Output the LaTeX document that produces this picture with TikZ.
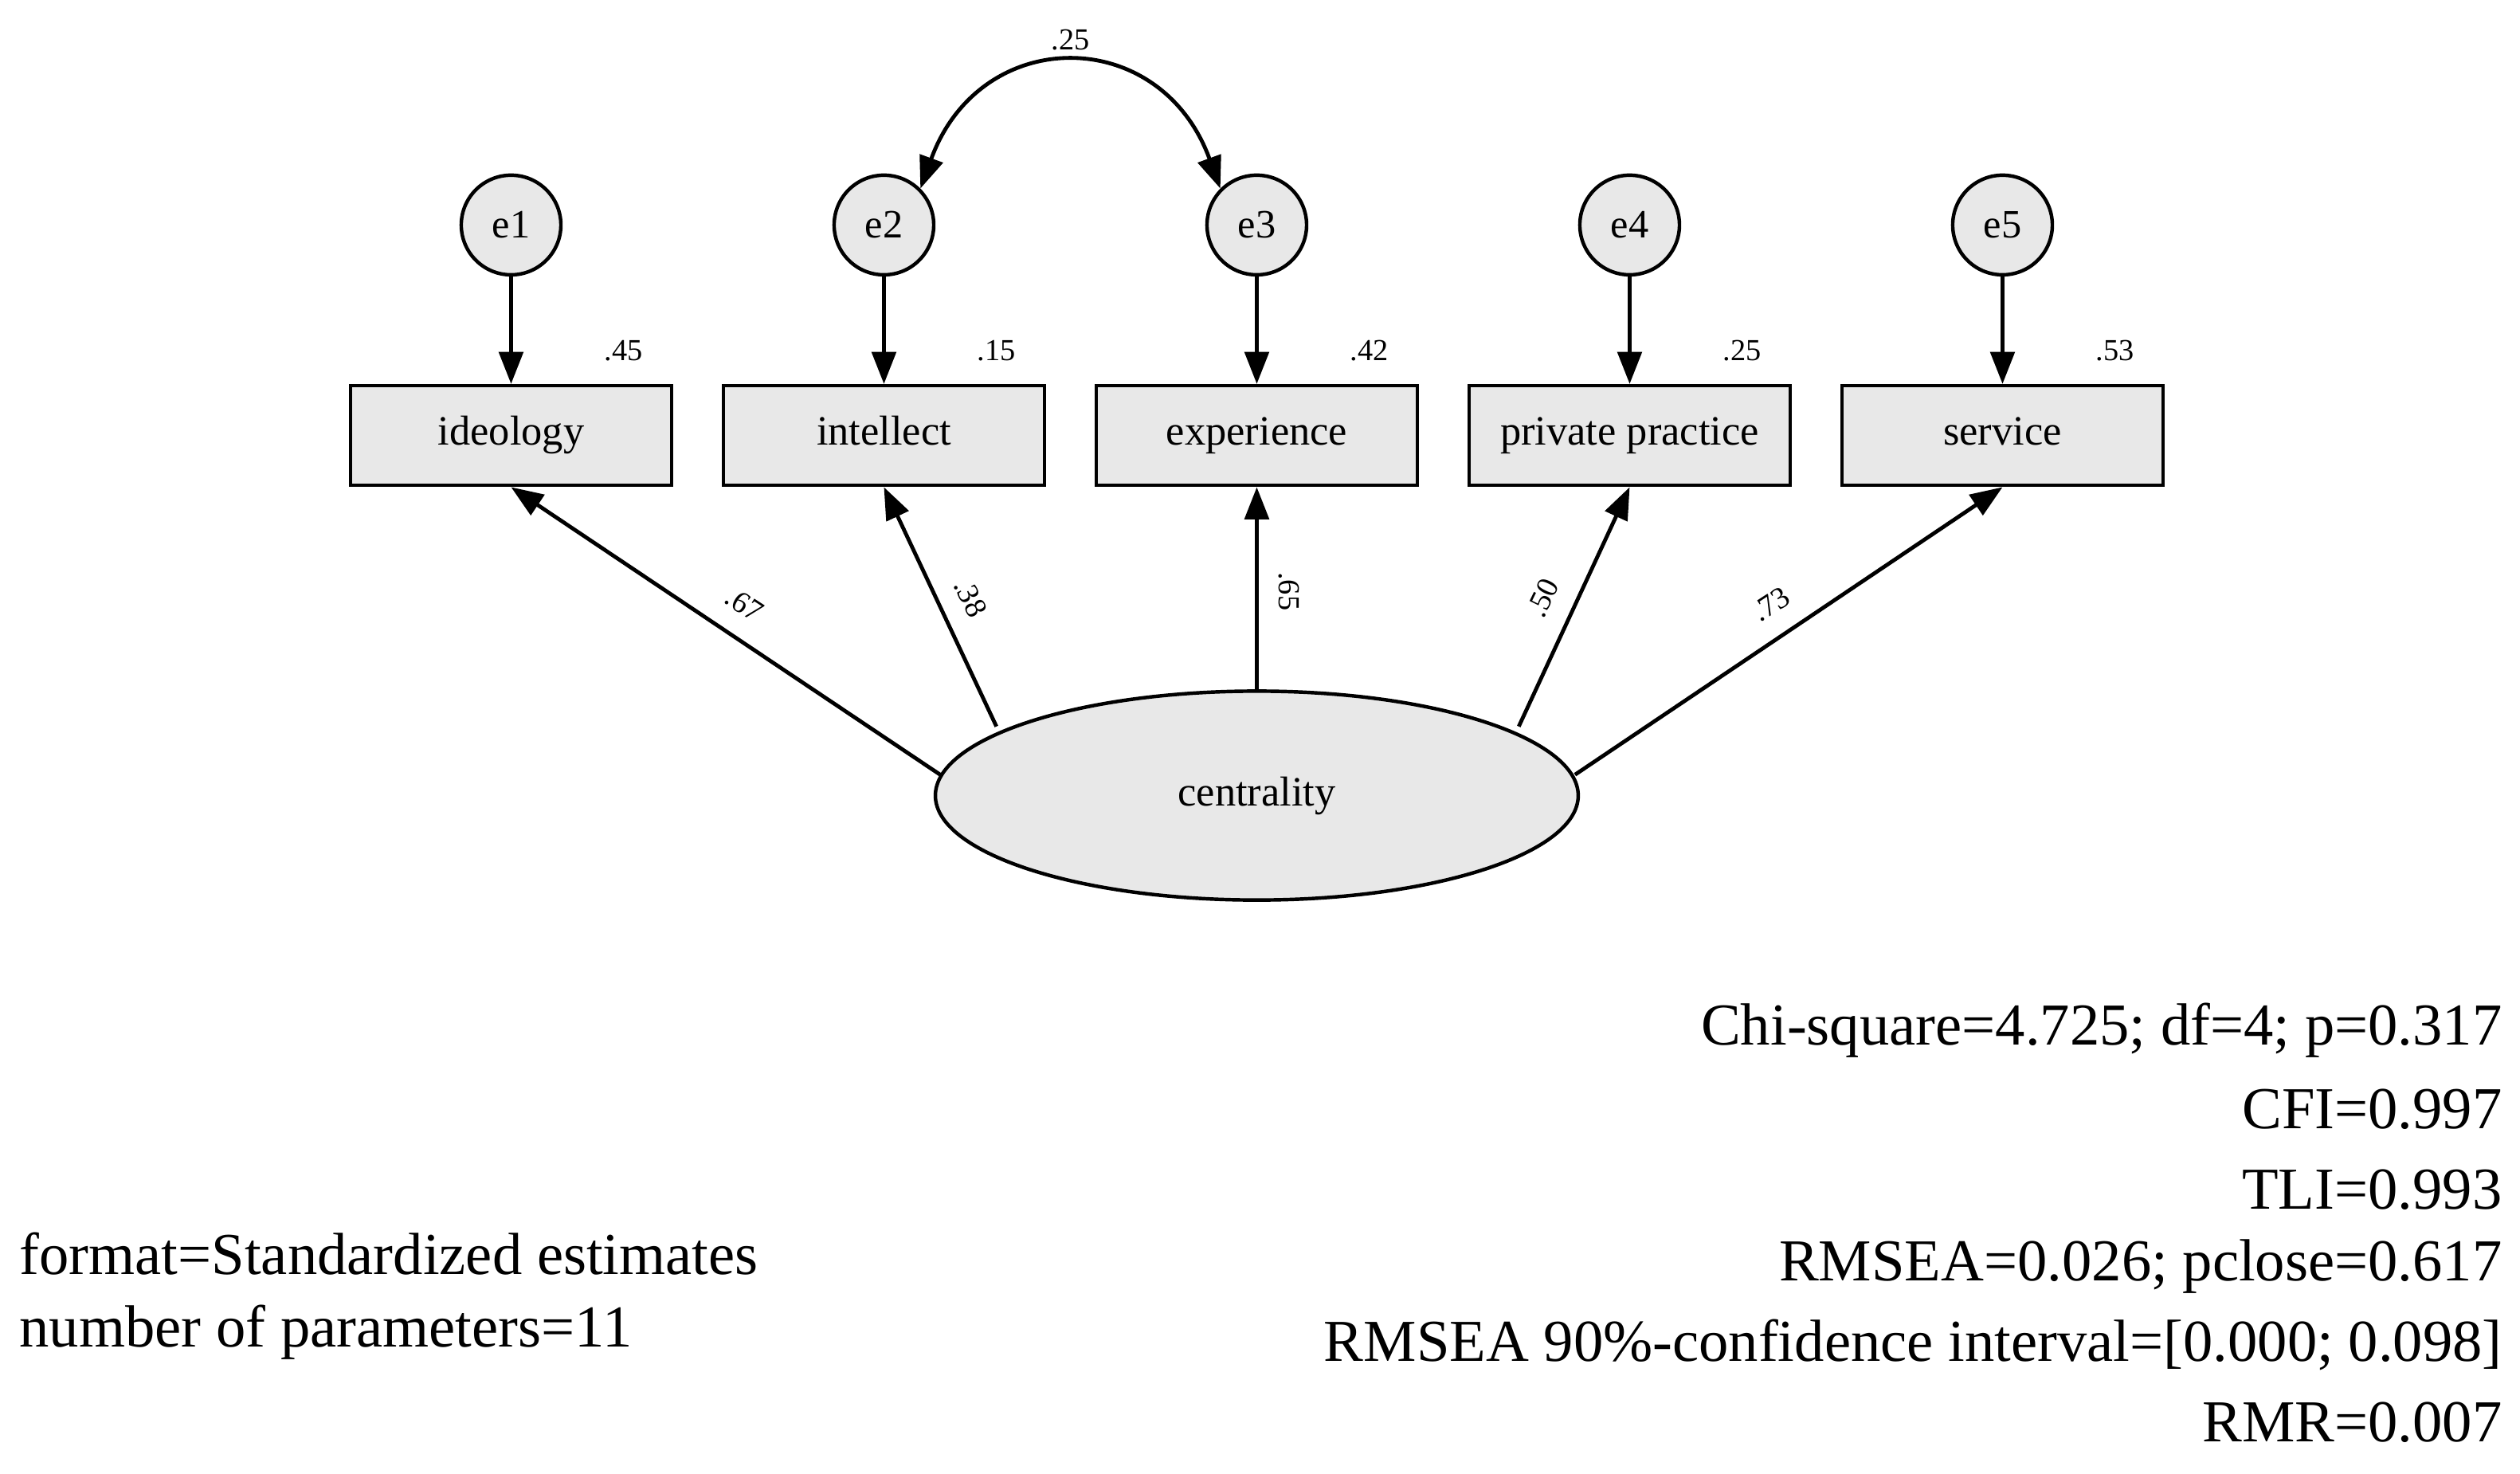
\documentclass[tikz,border=0pt]{standalone}
\usepackage{fontspec}
\setmainfont{Liberation Serif}
\usetikzlibrary{arrows.meta,shapes.geometric}
\begin{document}
\begin{tikzpicture}[x=1pt,y=-1pt,
  err/.style={circle,draw,line width=2.2pt,fill=gray!18,minimum size=62pt,inner sep=0pt,font=\fontsize{25}{28}\selectfont},
  obs/.style={rectangle,draw,line width=2.2pt,fill=gray!18,minimum width=200pt,minimum height=62pt,inner sep=0pt,text height=17pt,text depth=5pt,font=\fontsize{26}{30}\selectfont},
  lat/.style={ellipse,draw,line width=2.2pt,fill=gray!18,minimum width=400pt,minimum height=130pt,font=\fontsize{26}{30}\selectfont},
  arr/.style={line width=2.4pt,-{Triangle[length=20pt,width=15pt]}},
  num/.style={font=\fontsize{19}{22}\selectfont,inner sep=0pt},
  fit/.style={font=\fontsize{37}{42}\selectfont,inner sep=0pt}]
\useasboundingbox (0,0) rectangle (1568,917);
\foreach \i/\x in {1/318,2/550,3/782,4/1014,5/1246}{
  \node[err] (e\i) at (\x,140) {e\i};
}
\node[obs] (b1) at (318,271) {ideology};
\node[obs] (b2) at (550,271) {intellect};
\node[obs] (b3) at (782,271) {experience};
\node[obs] (b4) at (1014,271) {private practice};
\node[obs] (b5) at (1246,271) {service};
\foreach \i in {1,...,5}{\draw[arr] (e\i) -- (b\i);}
\node[num] at (388,218) {.45};
\node[num] at (620,218) {.15};
\node[num] at (852,218) {.42};
\node[num] at (1084,218) {.25};
\node[num] at (1316,218) {.53};
\node[lat] (c) at (782,495) {centrality};
\coordinate (c1) at (585,482);
\coordinate (c2) at (620,452);
\coordinate (c3) at (782,430);
\coordinate (c4) at (945,452);
\coordinate (c5) at (980,482);
\draw[arr] (c1) -- (b1.south);
\draw[arr] (c2) -- (b2.south);
\draw[arr] (c3) -- (b3.south);
\draw[arr] (c4) -- (b4.south);
\draw[arr] (c5) -- (b5.south);
\node[num,rotate=-33] at (463,376) {.67};
\node[num,rotate=-64] at (604,372) {.38};
\node[num,rotate=-90] at (802,368) {.65};
\node[num,rotate=64] at (960,372) {.50};
\node[num,rotate=33] at (1102,376) {.73};
\draw[line width=2.4pt,{Triangle[length=20pt,width=15pt]}-{Triangle[length=20pt,width=15pt]}] (e2.north east) .. controls (610,15) and (722,15) .. (e3.north west);
\node[num] at (666,25) {.25};
\node[fit,anchor=east] at (1557,641) {Chi-square=4.725; df=4; p=0.317};
\node[fit,anchor=east] at (1557,690) {CFI=0.997};
\node[fit,anchor=east] at (1557,740) {TLI=0.993};
\node[fit,anchor=east] at (1557,788) {RMSEA=0.026; pclose=0.617};
\node[fit,anchor=east] at (1557,837) {RMSEA 90\%-confidence interval=[0.000; 0.098]};
\node[fit,anchor=east] at (1557,885) {RMR=0.007};
\node[fit,anchor=west] at (12,780) {format=Standardized estimates};
\node[fit,anchor=west] at (12,829) {number of parameters=11};
\end{tikzpicture}
\end{document}
